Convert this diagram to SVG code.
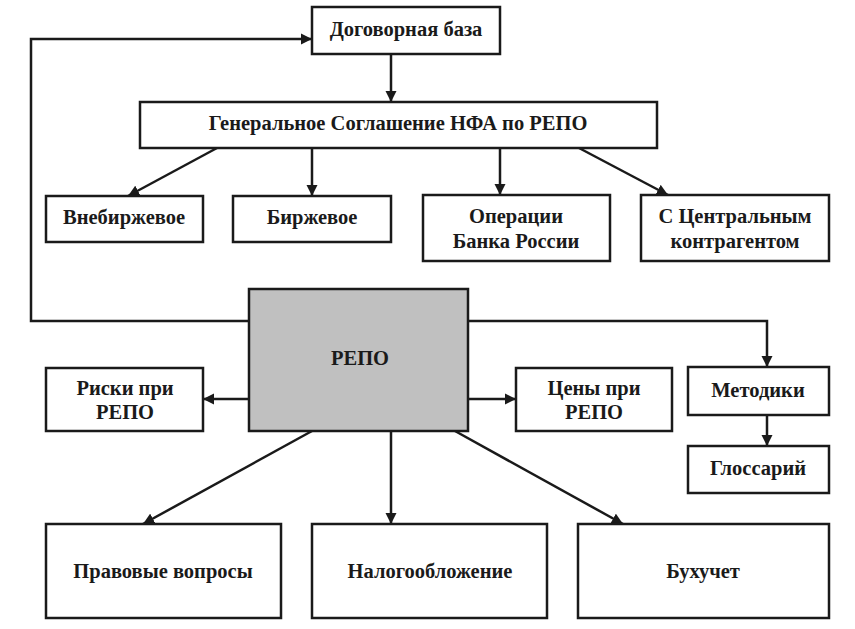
<svg xmlns="http://www.w3.org/2000/svg" width="855" height="629" viewBox="0 0 855 629">
<style>
.b{fill:#fff;stroke:#1a1a1a;stroke-width:2.5}
.g{fill:#c0c0c0;stroke:#1a1a1a;stroke-width:2.5}
.c{fill:none;stroke:#1a1a1a;stroke-width:2.5;marker-end:url(#ah)}
</style>
<defs>
<marker id="ah" viewBox="0 0 10 10" refX="10" refY="5" markerWidth="4.5" markerHeight="4.5" orient="auto" markerUnits="strokeWidth">
<path d="M0,0 L10,5 L0,10 z" fill="#1a1a1a"/>
</marker>
</defs>
<rect width="855" height="629" fill="#fff"/>
<g id="connectors">
<path class="c" d="M391,54 V102"/>
<path class="c" d="M217,148 L128,196"/>
<path class="c" d="M312,148 V196"/>
<path class="c" d="M500,148 V195"/>
<path class="c" d="M579,148 L668,195"/>
<path class="c" d="M249,321 H31 V39 H312"/>
<path class="c" d="M468,321 H767 V367"/>
<path class="c" d="M767,415 V446"/>
<path class="c" d="M249,399 H203"/>
<path class="c" d="M468,399 H516"/>
<path class="c" d="M312,431 L143,524"/>
<path class="c" d="M391,431 V524"/>
<path class="c" d="M455,431 L623,524"/>
</g>
<g id="dogovor"><rect class="b" x="312" y="7" width="188" height="47"/><text font-family="Liberation Serif" font-weight="bold" font-size="20.5" fill="#1a1a1a" text-anchor="middle" x="406" y="36">Договорная база</text></g>
<g id="general"><rect class="b" x="140" y="102" width="517" height="46"/><text font-family="Liberation Serif" font-weight="bold" font-size="20.5" fill="#1a1a1a" text-anchor="middle" x="398" y="130">Генеральное Соглашение НФА по РЕПО</text></g>
<g id="vnebirzh"><rect class="b" x="46" y="196" width="157" height="46"/><text font-family="Liberation Serif" font-weight="bold" font-size="20.5" fill="#1a1a1a" text-anchor="middle" x="124" y="224">Внебиржевое</text></g>
<g id="birzh"><rect class="b" x="233" y="196" width="158" height="46"/><text font-family="Liberation Serif" font-weight="bold" font-size="20.5" fill="#1a1a1a" text-anchor="middle" x="312" y="224">Биржевое</text></g>
<g id="bank"><rect class="b" x="423" y="195" width="187" height="66"/><text font-family="Liberation Serif" font-weight="bold" font-size="20.5" fill="#1a1a1a" text-anchor="middle" x="516" y="223">Операции</text><text font-family="Liberation Serif" font-weight="bold" font-size="20.5" fill="#1a1a1a" text-anchor="middle" x="516" y="248">Банка России</text></g>
<g id="central"><rect class="b" x="641" y="195" width="188" height="66"/><text font-family="Liberation Serif" font-weight="bold" font-size="20.5" fill="#1a1a1a" text-anchor="middle" x="735" y="223">С Центральным</text><text font-family="Liberation Serif" font-weight="bold" font-size="20.5" fill="#1a1a1a" text-anchor="middle" x="735" y="248">контрагентом</text></g>
<g id="repo"><rect class="g" x="249" y="289" width="219" height="142"/><text font-family="Liberation Serif" font-weight="bold" font-size="20.5" fill="#1a1a1a" text-anchor="middle" x="360" y="365">РЕПО</text></g>
<g id="riski"><rect class="b" x="46" y="368" width="157" height="63"/><text font-family="Liberation Serif" font-weight="bold" font-size="20.5" fill="#1a1a1a" text-anchor="middle" x="125" y="395">Риски при</text><text font-family="Liberation Serif" font-weight="bold" font-size="20.5" fill="#1a1a1a" text-anchor="middle" x="125" y="419">РЕПО</text></g>
<g id="ceny"><rect class="b" x="516" y="368" width="156" height="63"/><text font-family="Liberation Serif" font-weight="bold" font-size="20.5" fill="#1a1a1a" text-anchor="middle" x="594" y="395">Цены при</text><text font-family="Liberation Serif" font-weight="bold" font-size="20.5" fill="#1a1a1a" text-anchor="middle" x="594" y="419">РЕПО</text></g>
<g id="metodiki"><rect class="b" x="688" y="367" width="141" height="48"/><text font-family="Liberation Serif" font-weight="bold" font-size="20.5" fill="#1a1a1a" text-anchor="middle" x="758" y="397">Методики</text></g>
<g id="glossary"><rect class="b" x="688" y="446" width="141" height="47"/><text font-family="Liberation Serif" font-weight="bold" font-size="20.5" fill="#1a1a1a" text-anchor="middle" x="758" y="475">Глоссарий</text></g>
<g id="pravo"><rect class="b" x="46" y="524" width="235" height="94"/><text font-family="Liberation Serif" font-weight="bold" font-size="20.5" fill="#1a1a1a" text-anchor="middle" x="163" y="578">Правовые вопросы</text></g>
<g id="nalog"><rect class="b" x="312" y="524" width="235" height="94"/><text font-family="Liberation Serif" font-weight="bold" font-size="20.5" fill="#1a1a1a" text-anchor="middle" x="430" y="578">Налогообложение</text></g>
<g id="buh"><rect class="b" x="578" y="524" width="251" height="94"/><text font-family="Liberation Serif" font-weight="bold" font-size="20.5" fill="#1a1a1a" text-anchor="middle" x="703" y="578">Бухучет</text></g>
</svg>
